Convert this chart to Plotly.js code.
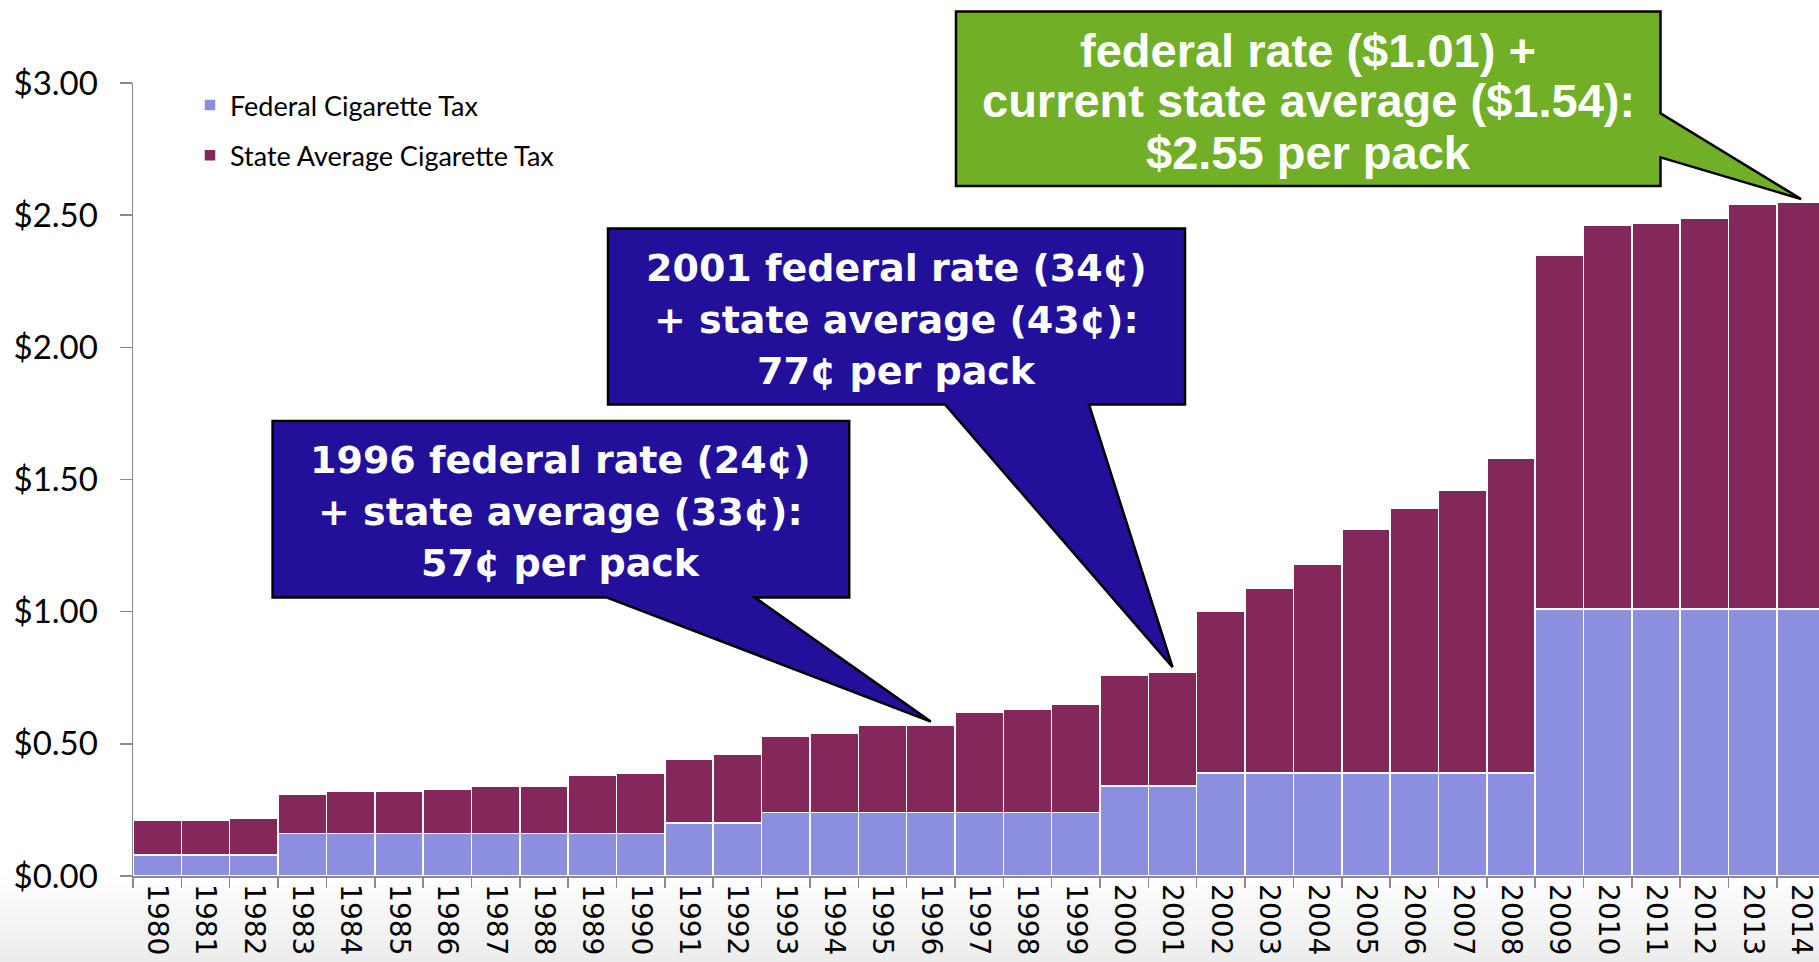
<!DOCTYPE html>
<html>
<head>
<meta charset="utf-8">
<script src="https://cdn.plot.ly/plotly-3.0.1.min.js"></script>
<style>
  html, body { margin: 0; padding: 0; }
  body { width: 1819px; height: 962px; overflow: hidden;
         background: linear-gradient(to bottom, #ffffff 0px, #ffffff 872px, #ececec 962px); }
  #chart { width: 1819px; height: 962px; }
</style>
</head>
<body>
<div id="chart"></div>
<script>
// ---- data ----
const years = ['1980','1981','1982','1983','1984','1985','1986','1987','1988','1989',
               '1990','1991','1992','1993','1994','1995','1996','1997','1998','1999',
               '2000','2001','2002','2003','2004','2005','2006','2007','2008','2009',
               '2010','2011','2012','2013','2014'];
const federalTax = [0.08,0.08,0.08,0.16,0.16,0.16,0.16,0.16,0.16,0.16,
                    0.16,0.20,0.20,0.24,0.24,0.24,0.24,0.24,0.24,0.24,
                    0.34,0.34,0.39,0.39,0.39,0.39,0.39,0.39,0.39,1.01,
                    1.01,1.01,1.01,1.01,1.01];
const stateAvgTax = [0.13,0.13,0.14,0.15,0.16,0.16,0.17,0.18,0.18,0.22,
                     0.23,0.24,0.26,0.29,0.30,0.33,0.33,0.38,0.39,0.41,
                     0.42,0.43,0.61,0.70,0.79,0.92,1.00,1.07,1.19,1.34,
                     1.45,1.46,1.48,1.53,1.54];
const seriesNames = ['Federal Cigarette Tax', 'State Average Cigarette Tax'];
const yTickVals = [0, 0.5, 1, 1.5, 2, 2.5, 3];

const calloutYears = ['1996', '2001', '2014'];
const calloutLines = [
  ['1996 federal rate (24¢)', '+ state average (33¢):', '57¢ per pack'],
  ['2001 federal rate (34¢)', '+ state average (43¢):', '77¢ per pack'],
  ['federal rate ($1.01) +', 'current state average ($1.54):', '$2.55 per pack']
];

// ---- layout geometry (pixels) ----
const W = 1819, H = 962;
const M = {l: 133, r: 0, t: 83, b: 86};
const PW = W - M.l - M.r, PH = H - M.t - M.b;
const XR = [-0.5, 34.37], YR = [0, 3];
const px = x => (x - M.l) / PW;           // pixel -> paper
const py = y => (H - M.b - y) / PH;
const dx = i => (i - XR[0]) / (XR[1] - XR[0]);  // category index -> paper
const dy = v => (v - YR[0]) / (YR[1] - YR[0]);

const callStyle = [
  {box: [272.6, 421, 849.2, 597.5], base: [607, 755], side: 'bottom', tipPad: 0.014,
   lineY: [460, 512, 563], fill: '#22109A', font: 'DejaVu Sans', size: 38},
  {box: [608, 228.5, 1185, 404.5], base: [945, 1089], side: 'bottom', tipPad: 0.02,
   lineY: [268, 320, 371], fill: '#22109A', font: 'DejaVu Sans', size: 38},
  {box: [956, 11.6, 1660.5, 186], base: [113.3, 157.3], side: 'right', tipPad: 0.011,
   lineY: [51, 101, 152], fill: '#71AF26', font: 'Liberation Sans', size: 47}
];

const shapes = [], annotations = [];
calloutYears.forEach((yr, k) => {
  const s = callStyle[k];
  const i = years.indexOf(yr);
  const tx = dx(i), ty = dy(federalTax[i] + stateAvgTax[i] + s.tipPad);
  const [L, T, R, B] = [px(s.box[0]), py(s.box[1]), px(s.box[2]), py(s.box[3])];
  let d;
  if (s.side === 'bottom') {
    const b1 = px(s.base[0]), b2 = px(s.base[1]);
    d = `M${L},${T} L${R},${T} L${R},${B} L${b2},${B} L${tx},${ty} L${b1},${B} L${L},${B} Z`;
  } else {
    const u = py(s.base[0]), w = py(s.base[1]);
    d = `M${L},${T} L${R},${T} L${R},${u} L${tx},${ty} L${R},${w} L${R},${B} L${L},${B} Z`;
  }
  shapes.push({type: 'path', xref: 'paper', yref: 'paper', path: d, layer: 'above',
               fillcolor: s.fill, line: {color: '#000000', width: 2.5}});
  calloutLines[k].forEach((txt, j) => {
    annotations.push({xref: 'paper', yref: 'paper', x: (L + R) / 2, y: py(s.lineY[j]),
      xanchor: 'center', yanchor: 'middle', showarrow: false, text: txt,
      font: {family: s.font, size: s.size, color: '#ffffff', weight: 700}});
  });
});

const traces = [
  {type: 'bar', x: years, y: federalTax, name: seriesNames[0], legendgroup: 'a',
   marker: {color: '#8C8FDE', line: {color: '#ffffff', width: 1.5}}, hoverinfo: 'skip'},
  {type: 'bar', x: years, y: stateAvgTax, name: seriesNames[1], legendgroup: 'b',
   marker: {color: '#84275B', line: {color: '#ffffff', width: 1.5}}, hoverinfo: 'skip'}
];

const layout = {
  width: W, height: H, margin: M,
  paper_bgcolor: 'rgba(0,0,0,0)', plot_bgcolor: '#ffffff',
  barmode: 'stack', bargap: 0,
  showlegend: true,
  legend: {x: px(190), y: py(81), xanchor: 'left', yanchor: 'top',
           traceorder: 'grouped', tracegroupgap: 12, bgcolor: 'rgba(0,0,0,0)',
           font: {family: 'Lato', size: 27, color: '#000000'}},
  xaxis: {type: 'category', range: XR, tickson: 'boundaries', ticks: 'outside',
          ticklen: 10, tickwidth: 1.5, tickcolor: '#898989', showline: true,
          linecolor: '#898989', linewidth: 1.5, showgrid: false, tickangle: 90,
          ticklabelstandoff: 1,
          tickfont: {family: 'DejaVu Sans', size: 28, color: '#000000'}, fixedrange: true},
  yaxis: {range: YR, tickvals: yTickVals, tickformat: '$.2f', ticks: 'outside',
          ticklen: 12, tickwidth: 1.5, tickcolor: '#898989', showline: true,
          linecolor: '#898989', linewidth: 1.5, showgrid: false, zeroline: false,
          ticklabelstandoff: 15,
          tickfont: {family: 'Lato', size: 33, color: '#000000'}, fixedrange: true},
  shapes: shapes,
  annotations: annotations
};

Plotly.newPlot('chart', traces, layout, {displayModeBar: false, staticPlot: true});
</script>
</body>
</html>
